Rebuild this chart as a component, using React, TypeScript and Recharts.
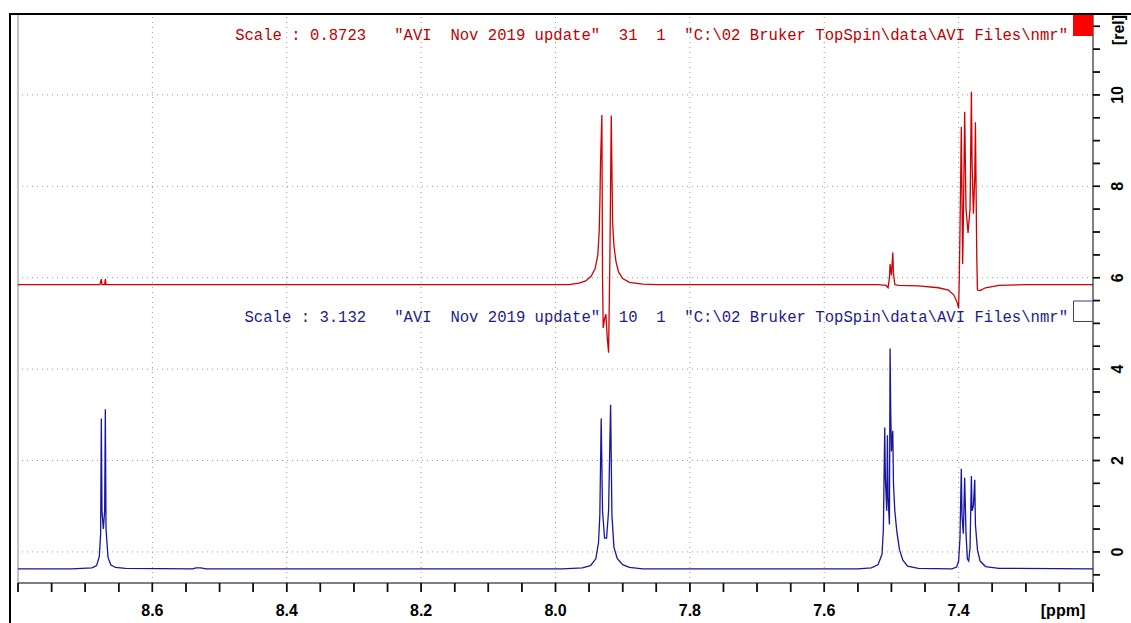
import React from 'react';
import { LineChart, Line, XAxis, YAxis, ReferenceLine } from 'recharts';

// Blue trace (lower spectrum, scale 3.132)
const bluePpm = [
  8.8, 8.72, 8.69, 8.683, 8.679, 8.677, 8.676, 8.675, 8.673, 8.671, 8.67, 8.669, 8.666, 8.662, 8.655, 8.64,
  8.54, 8.535, 8.528, 8.52,
  7.99, 7.96, 7.948, 7.94, 7.936, 7.934, 7.932, 7.93, 7.927, 7.924, 7.921, 7.918, 7.916, 7.913, 7.908, 7.9, 7.89, 7.87,
  7.55, 7.53, 7.52, 7.514, 7.512, 7.51, 7.509, 7.507, 7.506, 7.505, 7.503, 7.502, 7.501, 7.5, 7.498, 7.497, 7.495, 7.492, 7.488, 7.483, 7.476, 7.46,
  7.41, 7.403, 7.4, 7.398, 7.396, 7.395, 7.393, 7.391, 7.389, 7.387, 7.385, 7.383, 7.381, 7.38, 7.378, 7.376, 7.375, 7.372, 7.368, 7.36, 7.34, 7.2,
];
const blueRel = [
  -0.37, -0.37, -0.35, -0.3, -0.1, 0.4, 2.92, 0.9, 0.5, 0.9, 3.12, 0.5, -0.12, -0.28, -0.34, -0.36,
  -0.37, -0.35, -0.35, -0.37,
  -0.37, -0.35, -0.3, -0.15, 0.2, 0.8, 2.92, 0.9, 0.3, 0.3, 0.9, 3.22, 0.8, 0.1, -0.15, -0.28, -0.34, -0.37,
  -0.37, -0.35, -0.28, -0.05, 0.5, 2.72, 1.6, 0.9, 2.55, 1.2, 0.6, 4.45, 3.0, 2.2, 2.65, 1.5, 0.9, 0.45, 0.05, -0.18, -0.31, -0.36,
  -0.37, -0.33, -0.2, 0.3, 1.82, 0.8, 0.4, 1.62, 0.4, -0.15, -0.2, 0.1, 1.66, 0.9, 1.0, 1.58, 0.6, 0.05, -0.2, -0.32, -0.36, -0.37,
];

// Red trace (upper spectrum, scale 0.8723)
const redPpm = [
  8.8, 8.678, 8.676, 8.675, 8.671, 8.67, 8.669,
  7.98, 7.965, 7.955, 7.947, 7.941, 7.937, 7.935, 7.934, 7.933, 7.931, 7.93, 7.929, 7.927, 7.925, 7.923, 7.921, 7.919, 7.917, 7.916, 7.915, 7.913, 7.91, 7.906, 7.9, 7.89, 7.87, 7.85,
  7.52, 7.508, 7.505, 7.503, 7.502, 7.5, 7.498, 7.497, 7.495, 7.49,
  7.46, 7.43, 7.415, 7.407, 7.402, 7.4, 7.399, 7.398, 7.396, 7.394, 7.393, 7.391, 7.389, 7.386, 7.383, 7.381, 7.38, 7.378, 7.376, 7.375, 7.373, 7.372, 7.368, 7.36, 7.34, 7.3, 7.2,
];
const redRel = [
  5.85, 5.85, 5.97, 5.85, 5.85, 5.97, 5.85,
  5.85, 5.88, 5.93, 6.03, 6.2, 6.5, 7.0, 7.6, 8.5, 9.56, 6.0, 4.9, 5.1, 5.2, 4.7, 4.36, 6.5, 9.55, 8.3, 7.2, 6.7, 6.35, 6.12, 5.98, 5.9, 5.86, 5.85,
  5.85, 5.83, 5.78, 6.0, 6.3, 6.05, 6.55, 6.1, 5.85, 5.83,
  5.82, 5.78, 5.73, 5.62, 5.45, 5.33, 6.0, 7.0, 9.3, 6.3, 7.2, 9.63, 7.5, 6.98, 7.5, 10.07, 8.5, 7.4, 8.2, 9.4, 6.45, 5.73, 5.72, 5.78, 5.83, 5.85, 5.85,
];

const xTicks = [
  8.8, 8.75, 8.7, 8.65, 8.6, 8.55, 8.5, 8.45, 8.4, 8.35, 8.3, 8.25, 8.2, 8.15, 8.1, 8.05, 8.0,
  7.95, 7.9, 7.85, 7.8, 7.75, 7.7, 7.65, 7.6, 7.55, 7.5, 7.45, 7.4, 7.35, 7.3, 7.25, 7.2,
];
const xLabelTicks = [8.6, 8.4, 8.2, 8.0, 7.8, 7.6, 7.4];
const yTicks = [-0.5, 0, 0.5, 1, 1.5, 2, 2.5, 3, 3.5, 4, 4.5, 5, 5.5, 6, 6.5, 7, 7.5, 8, 8.5, 9, 9.5, 10, 10.5, 11, 11.5];
const yLabelTicks = [0, 2, 4, 6, 8, 10];

const redTitle = 'Scale : 0.8723   "AVI  Nov 2019 update"  31  1  "C:\\02 Bruker TopSpin\\data\\AVI Files\\nmr"';
const blueTitle = 'Scale : 3.132   "AVI  Nov 2019 update"  10  1  "C:\\02 Bruker TopSpin\\data\\AVI Files\\nmr"';

const blueData = bluePpm.map((p, i) => ({ ppm: p, rel: blueRel[i] }));
const redData = redPpm.map((p, i) => ({ ppm: p, rel: redRel[i] }));

const X_DOMAIN: [number, number] = [7.2, 8.8];
const Y_DOMAIN: [number, number] = [-0.68, 11.77];
// tick mark lengths in axis units (~9 px below the x axis, ~7 px right of the y axis)
const X_TICK_LEN = 0.197;
const Y_TICK_LEN = 0.0104;

const RED = '#d00000';
const BLUE = '#1616a0';
const AXIS_FONT = '"Liberation Sans", Arial, sans-serif';
const MONO = '"Liberation Mono", "Courier New", monospace';

const isIn = (v: number, arr: number[]) => arr.some((t) => Math.abs(t - v) < 1e-6);

const XTick = (props: any) => {
  const { x, y, payload } = props;
  const labelled = isIn(payload.value, xLabelTicks);
  return (
    <g>
      <rect x={x - 0.8} y={y - 11} width={1.6} height={9} fill="#111" />
      {labelled ? (
        <text x={x} y={y} dy={22} textAnchor="middle" fontFamily={AXIS_FONT} fontWeight="bold" fontSize={16} fill="#000">
          {payload.value.toFixed(1)}
        </text>
      ) : null}
    </g>
  );
};

const YTick = (props: any) => {
  const { x, y, payload } = props;
  const labelled = isIn(payload.value, yLabelTicks);
  const cx = x + 16;
  return (
    <g>
      <rect x={x - 9} y={y - 0.8} width={7} height={1.6} fill="#111" />
      {labelled ? (
        <text
          x={cx}
          y={y}
          transform={`rotate(-90, ${cx}, ${y})`}
          textAnchor="middle"
          dominantBaseline="central"
          fontFamily={AXIS_FONT}
          fontWeight="bold"
          fontSize={16}
          fill="#000"
        >
          {String(payload.value)}
        </text>
      ) : null}
    </g>
  );
};

const gridStyle = { stroke: '#9a9a9a', strokeDasharray: '1 4', strokeWidth: 1 };

export default function App() {
  return (
    <div style={{ position: 'absolute', left: 0, top: 0, width: 1131, height: 623, background: '#fff' }}>
      <LineChart width={1131} height={623} margin={{ top: 14, right: 8, bottom: 10, left: 18 }}>
        <XAxis
          type="number"
          dataKey="ppm"
          domain={X_DOMAIN}
          reversed
          ticks={xTicks}
          interval={0}
          tickSize={9}
          tickMargin={2}
          height={30}
          axisLine={{ stroke: '#000', strokeWidth: 1 }}
          tickLine={false}
          tick={<XTick />}
        />
        <YAxis
          type="number"
          orientation="right"
          domain={Y_DOMAIN}
          ticks={yTicks}
          interval={0}
          width={30}
          tickSize={7}
          tickMargin={2}
          axisLine={{ stroke: '#000', strokeWidth: 1 }}
          tickLine={false}
          tick={<YTick />}
        />
        {xLabelTicks.map((v) => (
          <ReferenceLine key={'gx' + v} x={v} {...gridStyle} />
        ))}
        {yLabelTicks.map((v) => (
          <ReferenceLine key={'gy' + v} y={v} {...gridStyle} />
        ))}
        <ReferenceLine x={8.8} stroke="#888" strokeWidth={1} />
        {xTicks.map((v) => (
          <ReferenceLine
            key={'tx' + v}
            ifOverflow="visible"
            stroke="#111"
            strokeWidth={1.3}
            segment={[
              { x: v, y: Y_DOMAIN[0] },
              { x: v, y: Y_DOMAIN[0] - X_TICK_LEN },
            ]}
          />
        ))}
        {yTicks.map((v) => (
          <ReferenceLine
            key={'ty' + v}
            ifOverflow="visible"
            stroke="#111"
            strokeWidth={1.3}
            segment={[
              { x: X_DOMAIN[0], y: v },
              { x: X_DOMAIN[0] - Y_TICK_LEN, y: v },
            ]}
          />
        ))}
        <Line
          data={redData}
          dataKey="rel"
          type="linear"
          stroke={RED}
          strokeWidth={1.3}
          dot={false}
          isAnimationActive={false}
        />
        <Line
          data={blueData}
          dataKey="rel"
          type="linear"
          stroke={BLUE}
          strokeWidth={1.3}
          dot={false}
          isAnimationActive={false}
        />
      </LineChart>
      <svg
        width={1131}
        height={623}
        style={{ position: 'absolute', left: 0, top: 0, pointerEvents: 'none' }}
      >
        <line x1={9} y1={14} x2={1131} y2={14} stroke="#000" strokeWidth={2} />
        <line x1={10} y1={14} x2={10} y2={623} stroke="#000" strokeWidth={2} />
        <rect x={1073} y={15} width={20} height={21} fill="#ff0000" />
        <path d="M1093 301 H1073.5 V321.5 H1093" stroke="#3a3a9a" strokeWidth={1} fill="none" />
        <text x={1068} y={40} textAnchor="end" fontFamily={MONO} fontSize={15.6} fill="#c00000" style={{ whiteSpace: 'pre' }}>
          {redTitle}
        </text>
        <text x={1068} y={322} textAnchor="end" fontFamily={MONO} fontSize={15.6} fill="#1c1c8c" style={{ whiteSpace: 'pre' }}>
          {blueTitle}
        </text>
        <text
          x={1118}
          y={30}
          transform="rotate(-90, 1118, 30)"
          textAnchor="middle"
          dominantBaseline="central"
          fontFamily={AXIS_FONT}
          fontWeight="bold"
          fontSize={16}
          fill="#000"
        >
          [rel]
        </text>
        <text x={1063} y={616} textAnchor="middle" fontFamily={AXIS_FONT} fontWeight="bold" fontSize={16} fill="#000">
          [ppm]
        </text>
      </svg>
    </div>
  );
}
